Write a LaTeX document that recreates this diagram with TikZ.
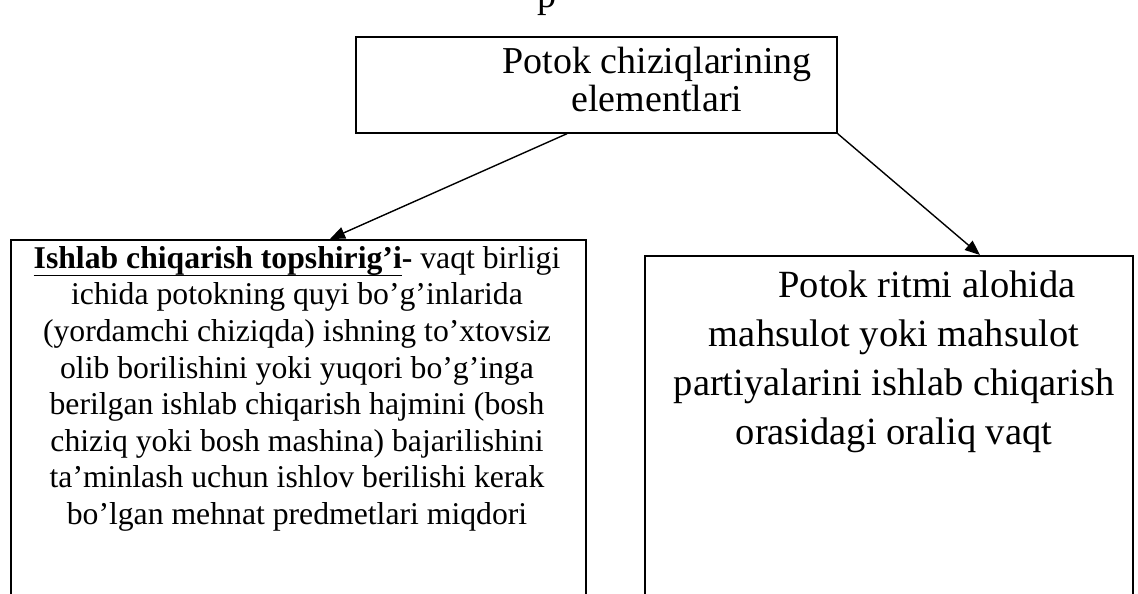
\documentclass[tikz,border=0pt]{standalone}
\usepackage{fontspec}
\setmainfont{Liberation Serif}
\usetikzlibrary{arrows.meta}
% underline with a heavier rule, set just under the descenders
\newcommand\thickul[1]{\setbox0\hbox{#1}\rlap{\rule[-8pt]{\wd0}{1.6pt}}\box0}
\begin{document}
\begin{tikzpicture}[x=1pt,y=-1pt,
  frame/.style={draw=black, line width=1.7pt, inner sep=0pt, anchor=north west},
  link/.style={line width=1.4pt, -{Triangle[length=15pt,width=12pt]}},
  headtext/.style={inner sep=0pt, align=center, anchor=north, font=\fontsize{38}{38}\selectfont},
  bigtext/.style={inner sep=0pt, align=center, anchor=north, font=\fontsize{38.5}{49}\selectfont},
  smalltext/.style={inner sep=0pt, align=center, anchor=north, font=\fontsize{31.7}{36.6}\selectfont}]
\useasboundingbox (0,0) rectangle (1138,594);

% remnant of the line of text above the chart
\node[inner sep=0pt, anchor=base, font=\fontsize{38}{40}\selectfont] (pfrag) at (547,8) {p};

% frames
\node[frame, minimum width=481pt, minimum height=96pt] (top) at (355,36) {};
\node[frame, minimum width=575pt, minimum height=380pt] (left) at (10,239) {};
\node[frame, minimum width=488pt, minimum height=380pt] (right) at (644,255) {};

% texts
\node[headtext] (toptext) at (657,47) {Potok chiziqlarining\\elementlari};
\node[smalltext] (lefttext) at (297,246) {%
\textbf{\thickul{Ishlab chiqarish topshirig’i}-} vaqt birligi\\
ichida potokning quyi bo’g’inlarida\\
(yordamchi chiziqda) ishning to’xtovsiz\\
olib borilishini yoki yuqori bo’g’inga\\
berilgan ishlab chiqarish hajmini (bosh\\
chiziq yoki bosh mashina) bajarilishini\\
ta’minlash uchun ishlov berilishi kerak\\
bo’lgan mehnat predmetlari miqdori};
\node[bigtext] (righttext) at (894,271) {%
\hspace*{66pt}Potok ritmi alohida\\
mahsulot yoki mahsulot\\
partiyalarini ishlab chiqarish\\
orasidagi oraliq vaqt};

% connectors
\draw[link] ([xshift=212pt]top.south west) -- ([xshift=320pt]left.north west);
\draw[link] (top.south east) -- ([xshift=336pt]right.north west);
\end{tikzpicture}
\end{document}
